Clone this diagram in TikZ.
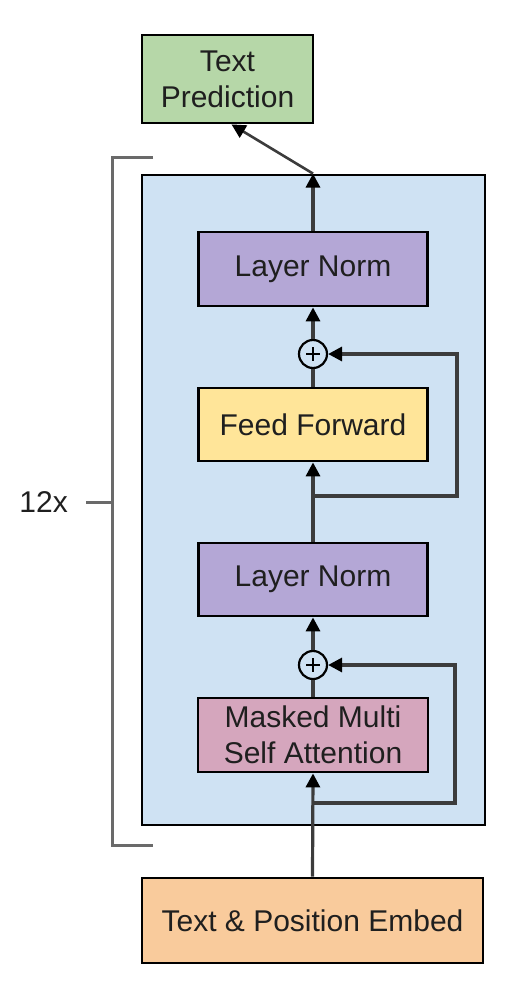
\documentclass[tikz,border=0pt]{standalone}
\usepackage{fontspec}
\setmainfont{Liberation Sans}
\usetikzlibrary{arrows.meta,calc}
\definecolor{cgreen}{HTML}{B6D7A8}
\definecolor{cblue}{HTML}{CFE2F3}
\definecolor{cpurple}{HTML}{B4A7D6}
\definecolor{cyellow}{HTML}{FFE599}
\definecolor{cpink}{HTML}{D5A6BD}
\definecolor{corange}{HTML}{F9CB9C}
\definecolor{cline}{HTML}{3C3C3C}
\definecolor{ctext}{HTML}{1F1F1F}
\definecolor{cbracket}{HTML}{6A6A6A}
\tikzset{
  box/.style={draw=black, line width=2.8pt, text=ctext, align=center,
    font=\fontsize{30}{36}\selectfont, inner sep=0pt},
  conn/.style={draw=cline, line width=3.2pt},
  arr/.style={conn, -{Triangle[length=14pt,width=14pt,color=black,fill=black]}},
  plusnode/.style={draw=black, circle, line width=2.2pt, minimum size=28pt, inner sep=0pt},
  brk/.style={draw=cbracket, line width=3pt},
  lbl/.style={text=ctext, font=\fontsize{30}{36}\selectfont, inner sep=0pt}
}
\begin{document}
\begin{tikzpicture}[x=1pt,y=-1pt]
\useasboundingbox (0,0) rectangle (527,992);
% container
\node[box, fill=cblue, minimum width=343pt, minimum height=650pt] (blue) at (313.5,500) {};
% bracket
\coordinate (bt) at (153,158);
\coordinate (bb) at (153,845);
\coordinate (bm) at (112,502);
\draw[brk] (bt) -- (bt -| bm) -- (bb -| bm) -- (bb);
\node[lbl, anchor=east] (twelve) at (68,502) {12x};
\draw[brk] (86,502) -- (bm);
% boxes
\node[box, fill=cgreen, minimum width=171pt, minimum height=88pt] (pred) at (227.5,79) {Text\\Prediction};
\node[box, fill=cpurple, minimum width=229pt, minimum height=74pt] (ln1) at (313,269) {Layer Norm};
\node[plusnode] (plus1) at (313,354) {};
\node[box, fill=cyellow, minimum width=229pt, minimum height=73pt] (ff) at (313,424.5) {Feed Forward};
\node[box, fill=cpurple, minimum width=229pt, minimum height=73pt] (ln2) at (313,579.5) {Layer Norm};
\node[plusnode] (plus2) at (313,665) {};
\node[box, fill=cpink, minimum width=230pt, minimum height=74pt] (msa) at (313,735) {Masked Multi\\Self Attention};
\node[box, fill=corange, minimum width=341pt, minimum height=85pt] (emb) at (312.5,920.5) {Text \& Position Embed};
% plus signs
\foreach \p in {plus1,plus2}{
  \draw[black, line width=1.8pt] ($(\p.center)+(-7,0)$) -- ($(\p.center)+(7,0)$);
  \draw[black, line width=1.8pt] ($(\p.center)+(0,-7)$) -- ($(\p.center)+(0,7)$);
}
% connectors
\coordinate (top) at (ln1.north |- blue.north);
\draw[arr] (ln1.north) -- (top);
\coordinate (predin) at ($(pred.south)+(4,0)$);
\draw[arr, line width=2.6pt] (top) -- (predin);
\draw[arr] (plus1.north) -- (ln1.south);
\draw[conn] (ff.north) -- (plus1.south);
\draw[arr] (ln2.north) -- (ff.south);
\coordinate (j1) at (313,496);
\draw[arr] (j1) -- ++(144,0) |- (plus1.east);
\draw[arr] (plus2.north) -- (ln2.south);
\draw[conn] (msa.north) -- (plus2.south);
\draw[arr] (emb.north) -- (msa.south);
\coordinate (j2) at (313,803);
\draw[arr] (j2) -- ++(142,0) |- (plus2.east);
\end{tikzpicture}
\end{document}
